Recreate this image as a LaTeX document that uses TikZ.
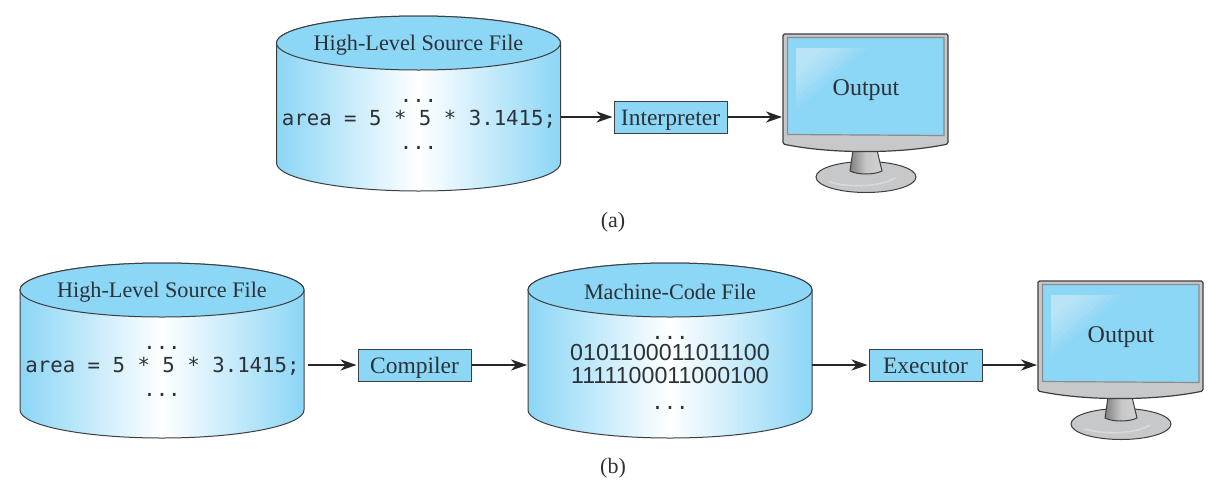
\documentclass[tikz,border=0pt]{standalone}
\usepackage{fontspec}
\setmainfont{Liberation Serif}
\setsansfont{Liberation Sans}
\setmonofont{DejaVu Sans Mono}
\usetikzlibrary{arrows.meta}
\definecolor{skyb}{HTML}{8CD6F6}
\definecolor{ink}{HTML}{2B3238}
\definecolor{bezel}{HTML}{C6C8CA}
\definecolor{edgeg}{HTML}{3C3E40}
\tikzset{
  cylbody/.style={draw=edgeg,line width=1pt,left color=skyb,right color=skyb,middle color=white},
  cyltop/.style={draw=edgeg,line width=1pt,fill=skyb},
  frame/.style={minimum width=284pt,minimum height=150pt,inner sep=0pt,outer sep=0pt},
  titletext/.style={text=ink,font=\fontsize{22.2}{25}\selectfont,inner sep=0pt},
  codetext/.style={text=ink,font=\ttfamily\fontsize{20.7}{23}\selectfont,inner sep=0pt},
  bintext/.style={text=ink,font=\sffamily\fontsize{23.2}{26}\selectfont,inner sep=0pt},
  procbox/.style={draw=edgeg,line width=1pt,fill=skyb,text=ink,minimum width=113pt,minimum height=32pt,inner sep=0pt,text height=17pt,text depth=1pt,font=\fontsize{23.5}{26}\selectfont},
  conn/.style={draw=black!85,line width=2.3pt,-{Stealth[length=16pt,width=11pt,inset=5pt]},shorten >=1pt},
  caplabel/.style={text=ink,font=\fontsize{22}{25}\selectfont,inner sep=0pt},
  montext/.style={text=ink,font=\fontsize{24}{27}\selectfont,inner sep=0pt},
  monframe/.style={minimum width=165pt,minimum height=111pt,inner sep=0pt,outer sep=0pt},
  bezelshape/.style={draw=edgeg,line width=1.2pt,fill=bezel,rounded corners=1.5pt},
  screenshape/.style={draw=black!45,line width=1.2pt,fill=skyb},
  standshape/.style={draw=edgeg,line width=1pt,left color=black!50,right color=black!18,middle color=black!22},
  baseshape/.style={draw=edgeg,line width=1pt,fill=bezel},
  glare/.style={fill=white,opacity=0.07},
}
\newcommand{\cylshape}[2]{%
  \path[cylbody] (-142,-75) -- (-142,45) arc[start angle=180,end angle=360,x radius=142pt,y radius=28pt] -- (142,-75) arc[start angle=0,end angle=180,x radius=142pt,y radius=27pt] -- cycle;
  \draw[cyltop] (0,-75) ellipse[x radius=142pt,y radius=27pt];
  \node[frame] (#1) at (0,0) {};
  \node[titletext] (#1title) at (0,-73) {#2};
}
\newcommand{\monitorshape}[1]{%
  \draw[baseshape] (866,177) ellipse[x radius=50pt,y radius=15.5pt];
  \draw[white!85!black,line width=1.6pt,line cap=round] (830,182) .. controls (850,188) and (880,187) .. (895,178);
  \path[standshape] (853,150) -- (850,171) .. controls (858,175) and (874,175) .. (882,171) -- (877,150) -- cycle;
  \draw[bezelshape] (783,34) -- (948,34) -- (948,144) .. controls (900,154) and (830,154) .. (783,144) -- cycle;
  \draw[screenshape] (787.5,37.5) -- (944,37.5) -- (944,135.5) -- (787.5,134.5) -- cycle;
  \foreach \s in {1,0.9,...,0.3}{
    \fill[glare] (796,48) -- (796+72*\s,48) -- (796,48+62*\s) -- cycle;
  }
  \node[monframe] (#1) at (865.5,88.5) {};
  \node[montext] (#1text) at (866,90) {Output};
}
\begin{document}
\begin{tikzpicture}[x=1pt,y=-1pt]
\useasboundingbox (0,0) rectangle (1224,488);
\fill[white] (0,0) rectangle (1224,488);
% (a)
\begin{scope}[shift={(418.5,118)}]
  \cylshape{srca}{High-Level Source File}
  \node[codetext] (codea) at (0.5,1) {area = 5 * 5 * 3.1415;};
  \node[codetext] (dotsa) at (0,-17) {...};
  \node[codetext] (dotsb) at (0,30) {...};
\end{scope}
\node[procbox] (interp) at (670.5,117) {Interpreter};
\monitorshape{mona}
\draw[conn] (srca.east |- interp.west) -- (interp.west);
\draw[conn] (interp.east) -- (interp.east -| mona.west);
\node[caplabel] (capa) at (613,222) {(a)};
% (b)
\begin{scope}[shift={(162,365)}]
  \cylshape{srcb}{High-Level Source File}
  \node[codetext] (codeb) at (0.5,1) {area = 5 * 5 * 3.1415;};
  \node[codetext] (dotsc) at (0,-17) {...};
  \node[codetext] (dotsd) at (0,30) {...};
\end{scope}
\node[procbox] (comp) at (414.5,365) {Compiler};
\begin{scope}[shift={(670,365)}]
  \cylshape{mach}{Machine-Code File}
  \node[codetext] (dotse) at (0,-27) {...};
  \node[bintext] (bina) at (0,-12) {0101100011011100};
  \node[bintext] (binb) at (0,11) {1111100011000100};
  \node[codetext] (dotsf) at (0,43) {...};
\end{scope}
\node[procbox] (exec) at (925.5,365) {Executor};
\begin{scope}[shift={(255,247)}]
  \monitorshape{monb}
\end{scope}
\draw[conn] (srcb.east) ++(4,0) -- (comp.west);
\draw[conn] (comp) -- (comp -| mach.west);
\draw[conn] (mach) -- (exec);
\draw[conn] (exec.east) -- (exec.east -| monb.west);
\node[caplabel] (capb) at (613,468) {(b)};
\end{tikzpicture}
\end{document}
